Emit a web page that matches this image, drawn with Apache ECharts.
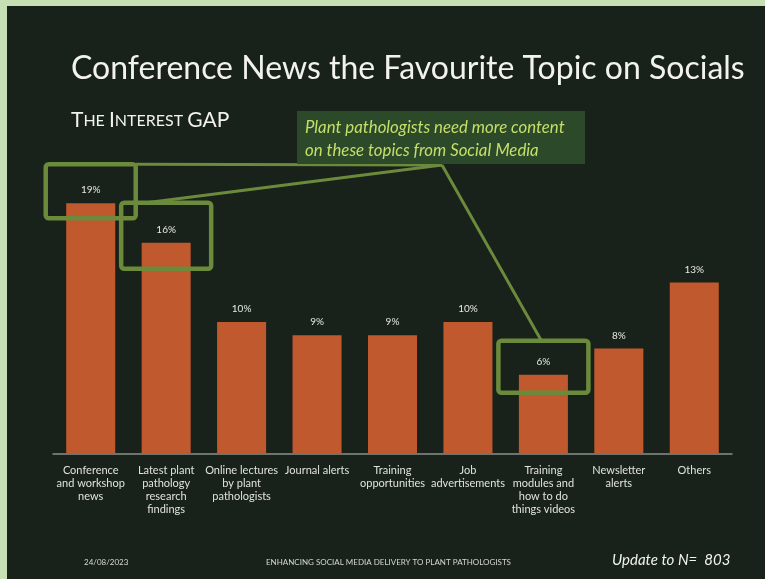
<!DOCTYPE html>
<html>
<head>
<meta charset="utf-8">
<script src="https://cdn.jsdelivr.net/npm/echarts@6/dist/echarts.min.js"></script>
<style>
  html, body { margin: 0; padding: 0; background: #18211a; }
  #chart { width: 765px; height: 579px; }
</style>
</head>
<body>
<div id="chart"></div>
<script>
// Topics plant pathologists want to see on social media (share of respondents, %)
const categories = [
  'Conference\nand workshop\nnews',
  'Latest plant\npathology\nresearch\nfindings',
  'Online lectures\nby plant\npathologists',
  'Journal alerts',
  'Training\nopportunities',
  'Job\nadvertisements',
  'Training\nmodules and\nhow to do\nthings videos',
  'Newsletter\nalerts',
  'Others'
];
const shares = [19, 16, 10, 9, 9, 10, 6, 8, 13];

// Topics called out as needing more content
const highlighted = [0, 1, 6];

const FONT = 'Lato, "DejaVu Sans", sans-serif';
const BG = '#18211a';
const BAR = '#c0592d';
const GREEN = '#6b8a3c';
const TEXT = '#f2f2ee';

const chart = echarts.init(document.getElementById('chart'));

chart.setOption({
  backgroundColor: BG,
  animation: false,
  grid: { left: 53, right: 33, top: 190, bottom: 125 },
  xAxis: {
    type: 'category',
    data: categories,
    axisTick: { show: false },
    axisLine: { lineStyle: { color: '#8a8f8a', width: 1.5 } },
    axisLabel: {
      interval: 0, margin: 10, color: '#e2e2dc', fontSize: 11,
      lineHeight: 13, fontFamily: FONT
    }
  },
  yAxis: { type: 'value', min: 0, max: 20, show: false },
  series: [{
    type: 'bar',
    data: shares,
    barCategoryGap: '35%',
    itemStyle: { color: BAR },
    label: {
      show: true, position: 'top', distance: 8,
      formatter: '{c}%', color: '#e8e8e2', fontSize: 10, fontFamily: FONT
    }
  }]
});

// Slide frame, headings, footer, plus the callout anchored to the highlighted bars
function buildGraphics() {
  const px = (i, v) => chart.convertToPixel({ xAxisIndex: 0, yAxisIndex: 0 }, [i, v]);
  const els = [];

  els.push({ type: 'rect', z: 1, shape: { x: 0, y: 0, width: 765, height: 6 }, style: { fill: '#c6e0b4' } });
  els.push({ type: 'rect', z: 1, shape: { x: 0, y: 0, width: 7, height: 579 }, style: { fill: '#c6e0b4' } });

  els.push({
    type: 'text', z: 3, left: 71, top: 53,
    style: { text: 'Conference News the Favourite Topic on Socials', fill: TEXT, font: '32px ' + FONT }
  });
  els.push({
    type: 'text', z: 3, left: 71, top: 110,
    style: {
      text: '{a|T}{b|HE }{a|I}{b|NTEREST }{a|GAP}',
      rich: {
        a: { fill: TEXT, fontSize: 21, fontFamily: FONT },
        b: { fill: TEXT, fontSize: 16, fontFamily: FONT }
      }
    }
  });
  els.push({
    type: 'text', z: 3, left: 84, top: 558,
    style: { text: '24/08/2023', fill: '#d8d8d2', font: '8px ' + FONT }
  });
  els.push({
    type: 'text', z: 3, left: 266, top: 558,
    style: { text: 'ENHANCING SOCIAL MEDIA DELIVERY TO PLANT PATHOLOGISTS', fill: '#d8d8d2', font: '8px ' + FONT }
  });
  els.push({
    type: 'text', z: 3, left: 612, top: 553,
    style: { text: 'Update to N=  803', fill: TEXT, font: 'italic 15px ' + FONT }
  });

  // boxes around each highlighted bar top and its value label
  const reach = [[39, 15], [40, 26], [34, 18]];
  const boxes = highlighted.map((i, k) => {
    const p = px(i, shares[i]);
    const up = reach[k][0], down = reach[k][1];
    return { x: p[0] - 45, y: p[1] - up, w: 90, h: up + down, cx: p[0] };
  });

  const tip = [442, 165];
  const line = (a, b) => ({
    type: 'polyline', z: 5,
    shape: { points: [a, b] },
    style: { stroke: GREEN, lineWidth: 3, fill: null }
  });
  els.push(line([boxes[0].x + boxes[0].w, boxes[0].y], tip));
  els.push(line([boxes[1].cx - 20, boxes[1].y], tip));
  els.push(line(tip, [boxes[2].cx - 2, boxes[2].y]));

  boxes.forEach(b => els.push({
    type: 'rect', z: 6,
    shape: { x: b.x, y: b.y, width: b.w, height: b.h, r: 3 },
    style: { stroke: GREEN, lineWidth: 4.5, fill: null }
  }));

  els.push({
    type: 'rect', z: 7,
    shape: { x: 297, y: 111, width: 288, height: 53 },
    style: { fill: '#2c4a2a' }
  });
  els.push({
    type: 'text', z: 8, left: 305, top: 116,
    style: {
      text: 'Plant pathologists need more content\non these topics from Social Media',
      fill: '#c6df6a', font: 'italic 16.8px ' + FONT, lineHeight: 23
    }
  });
  return els;
}

chart.setOption({ graphic: buildGraphics() });
</script>
</body>
</html>
